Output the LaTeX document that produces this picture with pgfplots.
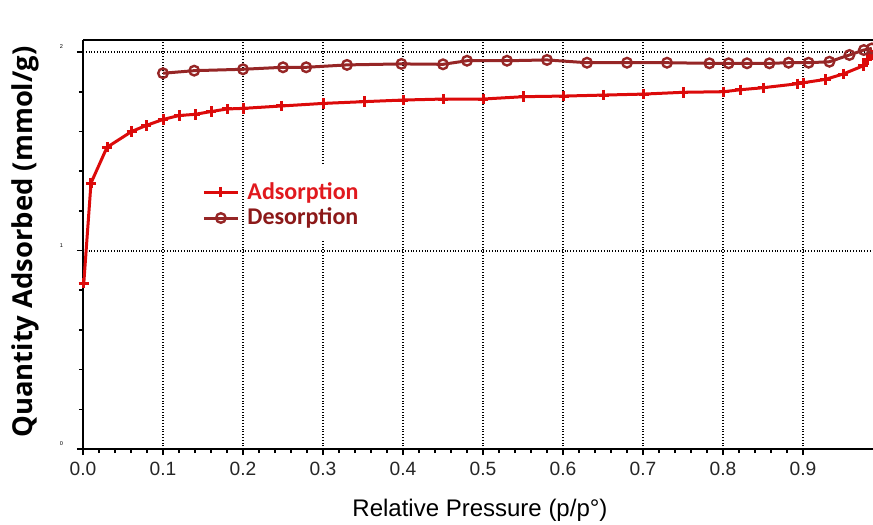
\documentclass[border=0pt]{standalone}
\usepackage{pgfplots}
\pgfplotsset{compat=1.18}
\usepackage{fontspec}
\setmainfont{Liberation Sans}
\newfontfamily\ylabfont{Open Sans}
\newfontfamily\legfont{Carlito}
\definecolor{adsred}{RGB}{220,10,10}
\definecolor{desred}{RGB}{150,38,38}
\definecolor{adstext}{RGB}{225,25,30}
\definecolor{destext}{RGB}{140,25,25}
\begin{document}
\begin{tikzpicture}
\begin{axis}[
  scale only axis,
  width=395pt, height=204.5pt,
  xmin=0, xmax=0.9875, ymin=0, ymax=2.0605,
  axis x line*=box, axis y line*=left,
  xtick pos=bottom,
  axis line style={line width=1pt, black},
  xtick={0,0.1,...,0.9},
  minor x tick num=4,
  ytick={0,1,2},
  minor y tick num=4,
  tick align=outside,
  major tick length=3pt,
  minor tick length=2pt,
  every tick/.style={black, line width=0.8pt},
  xmajorgrids, ymajorgrids,
  major grid style={black, densely dotted, line width=1pt},
  /pgf/number format/assume math mode=true,
  xticklabel style={font=\fontsize{9.6}{11}\selectfont, text=black!85, /pgf/number format/fixed, /pgf/number format/precision=1, /pgf/number format/fixed zerofill},
  yticklabel style={font=\fontsize{2.8}{3}\selectfont, xshift=-3.5pt, yshift=2.5pt},
  xlabel={Relative Pressure (p/p\textdegree)},
  xlabel style={font=\fontsize{12}{14}\selectfont, at={(axis description cs:0.5025,-0.149)}, anchor=center},
  ylabel={Quantity Adsorbed (mmol/g)},
  ylabel style={font=\ylabfont\bfseries\fontsize{13.7}{15}\selectfont, at={(axis description cs:-0.0734,0.506)}, anchor=center},
  legend style={at={(axis description cs:0.148,0.668)}, anchor=north west, draw=none, fill=none, font=\legfont\bfseries\fontsize{12}{13}\selectfont, row sep=-1pt, inner sep=1pt, nodes={inner xsep=4pt}},
  legend cell align=left,
  legend image code/.code={\draw[mark repeat=2,mark phase=2] plot coordinates {(0cm,0cm)(0.3cm,0cm)(0.6cm,0cm)};},
]
\fill[white] (axis cs:0.2035,1.05) rectangle (axis cs:0.355,1.43);
\addplot[color=adsred, line width=1.5pt, mark=+, mark size=2.6pt, mark options={line width=1.5pt}] coordinates {
(0.001,0.836)(0.01,1.34)(0.03,1.52)(0.061,1.60)(0.079,1.63)(0.10,1.66)(0.12,1.68)(0.14,1.686)(0.16,1.70)(0.18,1.713)(0.20,1.716)(0.248,1.728)(0.30,1.741)(0.352,1.75)(0.40,1.758)(0.45,1.763)(0.50,1.763)(0.551,1.775)(0.601,1.778)(0.651,1.783)(0.701,1.788)(0.75,1.797)(0.801,1.80)(0.822,1.81)(0.85,1.82)(0.893,1.84)(0.90,1.845)(0.928,1.862)(0.95,1.889)(0.975,1.93)(0.98,1.963)(0.986,1.985)
};
\addlegendentry{\textcolor{adstext}{Adsorption}}
\addplot[color=desred, line width=1.5pt, mark=o, mark size=2.4pt, mark options={line width=1.2pt}] coordinates {
(0.986,2.018)(0.976,2.01)(0.958,1.985)(0.933,1.951)(0.907,1.946)(0.882,1.946)(0.858,1.943)(0.83,1.943)(0.807,1.943)(0.783,1.943)(0.73,1.946)(0.68,1.946)(0.63,1.946)(0.58,1.96)(0.53,1.956)(0.48,1.956)(0.45,1.938)(0.398,1.94)(0.33,1.935)(0.279,1.923)(0.25,1.923)(0.20,1.913)(0.139,1.906)(0.10,1.893)
};
\addlegendentry{\textcolor{destext}{Desorption}}
\coordinate (SW) at (rel axis cs:0,0);
\coordinate (NE) at (rel axis cs:1,1);
\end{axis}
\pgfresetboundingbox
\path ([xshift=-41.5pt,yshift=-37.5pt]SW) rectangle ([yshift=20pt]NE);
\end{tikzpicture}
\end{document}
